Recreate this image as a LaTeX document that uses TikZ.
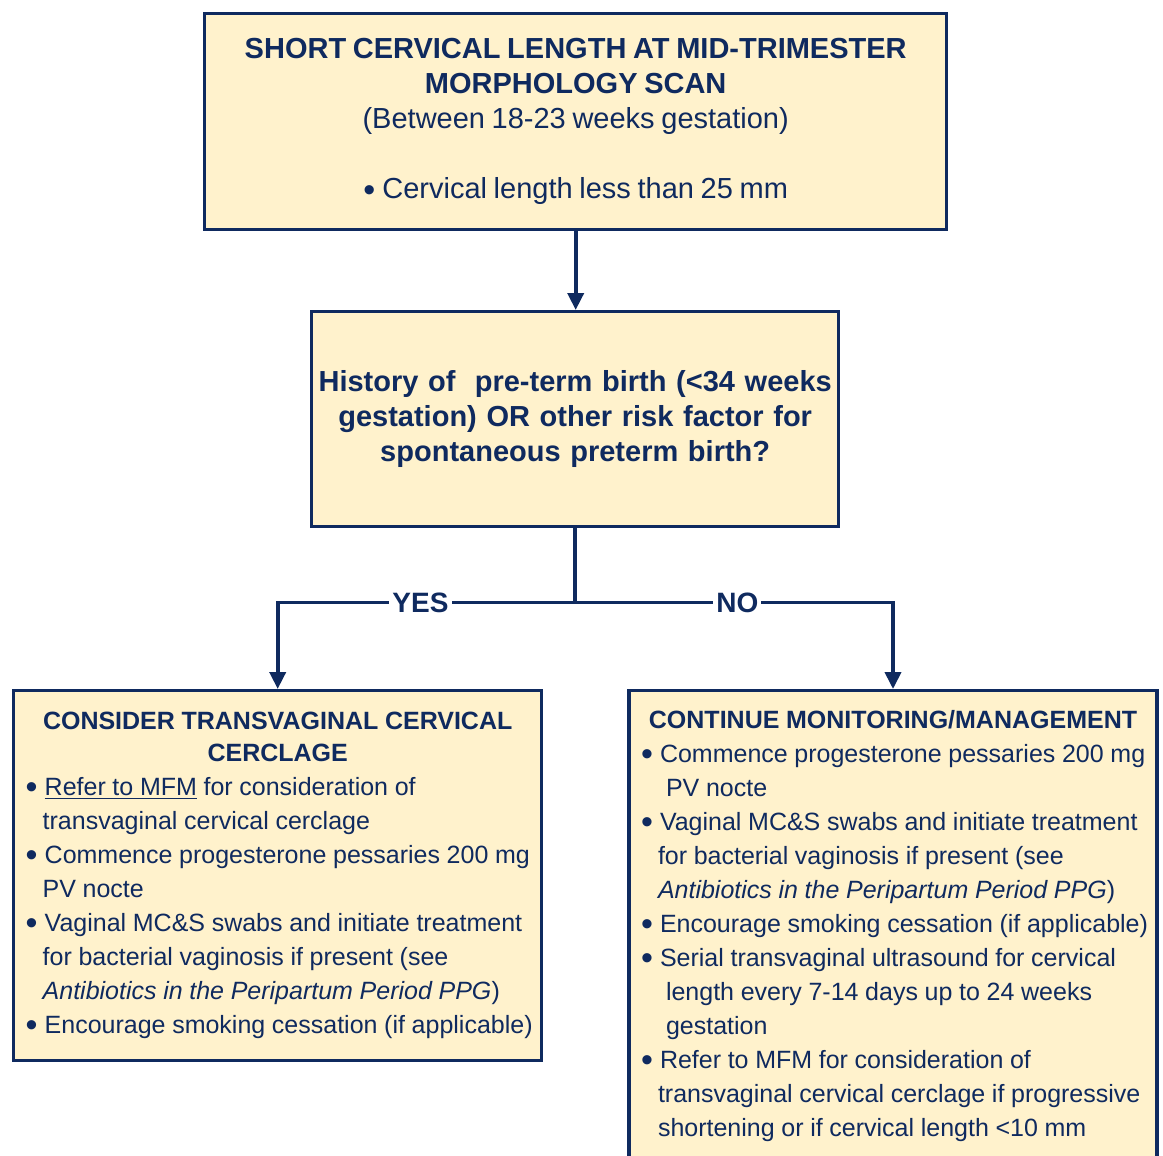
\documentclass[tikz,border=0pt]{standalone}
\usepackage{fontspec}
\setmainfont{Liberation Sans}
\usetikzlibrary{arrows.meta,positioning,calc}
\definecolor{fnavy}{HTML}{0F2A5F}
\definecolor{fcream}{HTML}{FFF2CC}
\newcommand{\bul}{\makebox[9.5pt][l]{\fontsize{17}{17}\selectfont\raisebox{-1.2pt}{\textbullet}}}
\newcommand{\bitem}[1]{\mbox{\bul#1}\par}
\newcommand{\citem}[1]{\mbox{\hspace*{8.5pt}#1}\par}
\newcommand{\ditem}[1]{\mbox{\hspace*{12.5pt}#1}\par}

\begin{document}
\begin{tikzpicture}[x=0.5pt,y=-0.5pt,
		box/.style={draw=fnavy, line width=1.7pt, fill=fcream, inner sep=0pt, text=fnavy},
		link/.style={draw=fnavy, line width=1.9pt, -{Triangle[width=8pt,length=8.5pt]}},
		answer/.style={fill=white, text=fnavy, font=\fontsize{14}{16}\selectfont\bfseries, inner xsep=1.5pt, inner ysep=1pt}]
		\useasboundingbox (0,0) rectangle (1163,1156);
		% top box
		\node[box, anchor=north west, minimum width=371pt, minimum height=108pt, text width=360pt, align=center] (scan) at (203,12)
		{{\fontsize{14.5}{17.5}\selectfont\bfseries SHORT CERVICAL LENGTH AT MID-TRIMESTER\\ MORPHOLOGY SCAN\par}
		 {\fontsize{14.5}{17.5}\selectfont (Between 18-23 weeks gestation)\par\vspace{17.5pt}\bul Cervical length less than 25 mm\par}};
		% question
		\node[box, anchor=north west, minimum width=263.5pt, minimum height=107.5pt, text width=258pt, align=center,
			font=\fontsize{14.5}{17.5}\selectfont\bfseries] (hist) at (310,310)
		{History of\ \ pre-term birth (<34 weeks\\ gestation) OR other risk factor for\\ spontaneous preterm birth?};
		% yes
		\node[box, anchor=north west, minimum width=264pt, minimum height=185pt, text width=252pt, align=left] (cerclage) at (12,689)
		{{\centering\fontsize{12.5}{16}\selectfont\bfseries CONSIDER TRANSVAGINAL CERVICAL\\ CERCLAGE\par}
		 \fontsize{12.5}{17}\selectfont
		 \bitem{\underline{Refer to MFM} for consideration of}
		 \citem{transvaginal cervical cerclage}
		 \bitem{Commence progesterone pessaries 200 mg}
		 \citem{PV nocte}
		 \bitem{Vaginal MC\&S swabs and initiate treatment}
		 \citem{for bacterial vaginosis if present (see}
		 \citem{\textit{Antibiotics in the Peripartum Period PPG})}
		 \bitem{Encourage smoking cessation (if applicable)}};
		% no
		\node[box, anchor=north, text width=252pt, inner xsep=6pt, inner ysep=10pt, align=left] (monitor) at (893,689)
		{{\centering\fontsize{12.5}{16}\selectfont\bfseries CONTINUE MONITORING/MANAGEMENT\par}
		 \fontsize{12.5}{17}\selectfont
		 \bitem{Commence progesterone pessaries 200 mg}
		 \ditem{PV nocte}
		 \bitem{Vaginal MC\&S swabs and initiate treatment}
		 \citem{for bacterial vaginosis if present (see}
		 \citem{\textit{Antibiotics in the Peripartum Period PPG})}
		 \bitem{Encourage smoking cessation (if applicable)}
		 \bitem{Serial transvaginal ultrasound for cervical}
		 \ditem{length every 7-14 days up to 24 weeks}
		 \ditem{gestation}
		 \bitem{Refer to MFM for consideration of}
		 \citem{transvaginal cervical cerclage if progressive}
		 \citem{shortening or if cervical length <10 mm\rule[-14pt]{0pt}{14pt}}};
		% links
		\coordinate (split) at ($(hist.south)+(0,74)$);
		\draw[link] (scan.south) -- (scan.south |- hist.north);
		\draw[link] (hist.south) -- (split) -| node[answer, pos=0.26] {YES} (cerclage.north);
		\draw[link] (split) -| node[answer, pos=0.255] {NO} (monitor.north);
	\end{tikzpicture}
\end{document}
